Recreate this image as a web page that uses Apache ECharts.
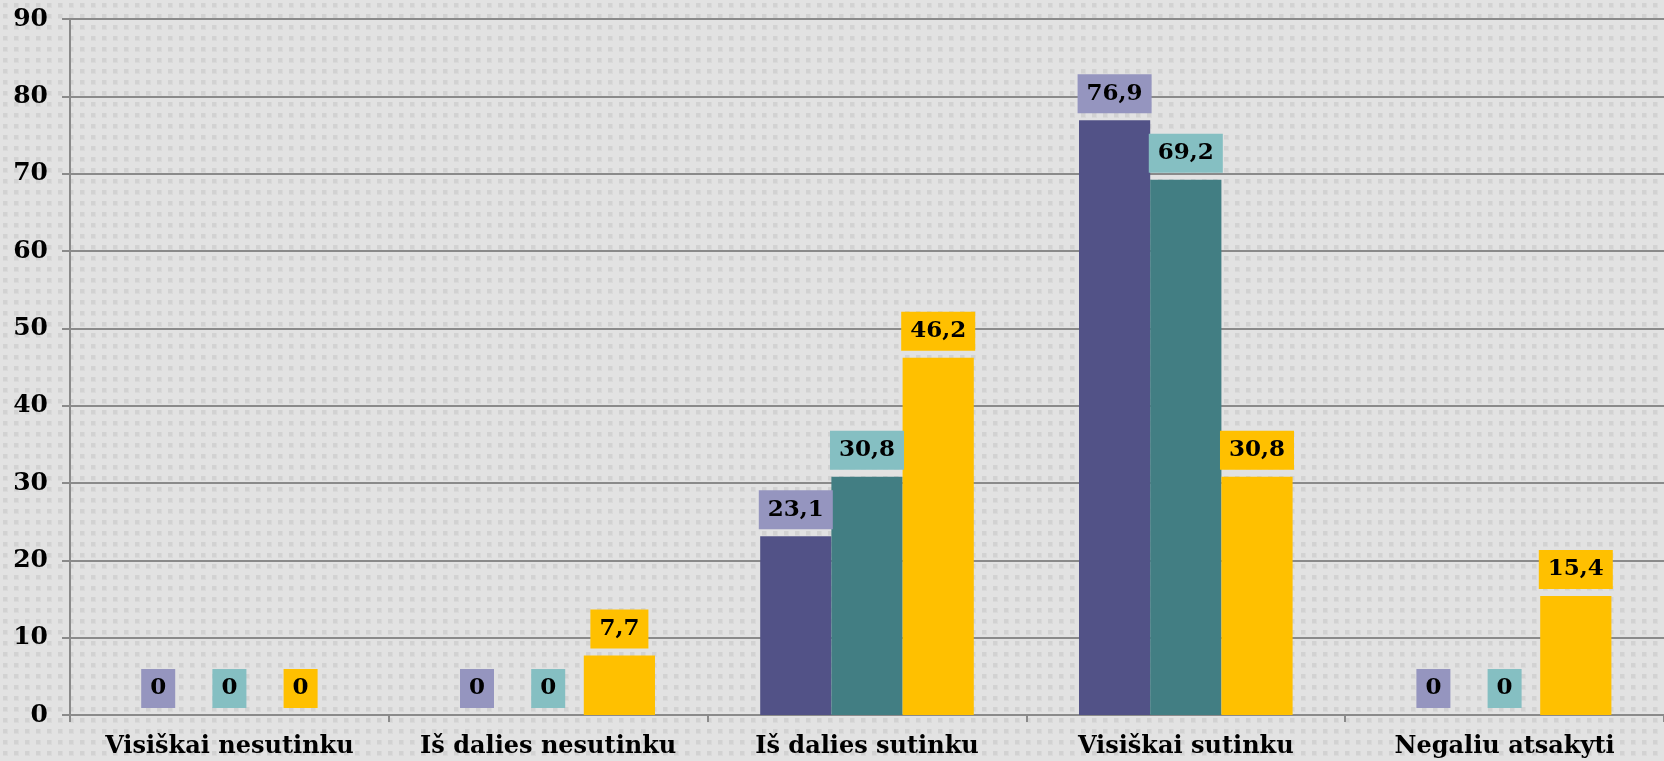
<!DOCTYPE html>
<html>
<head>
<meta charset="utf-8">
<script src="https://cdn.jsdelivr.net/npm/echarts@6/dist/echarts.min.js"></script>
<style>
  html, body { margin: 0; padding: 0; }
  #chart { width: 1664px; height: 761px; }
</style>
</head>
<body>
<div id="chart"></div>
<script>
// kategorijos ir reikšmės
var categories = ['Visiškai nesutinku', 'Iš dalies nesutinku', 'Iš dalies sutinku', 'Visiškai sutinku', 'Negaliu atsakyti'];
var seriesA = [0, 0, 23.1, 76.9, 0];
var seriesB = [0, 0, 30.8, 69.2, 0];
var seriesC = [0, 7.7, 46.2, 30.8, 15.4];
var yTicks = [0, 10, 20, 30, 40, 50, 60, 70, 80, 90];

// taškuotas fonas
function makePattern() {
    var c = document.createElement('canvas')
    c.width = 11
    c.height = 11
    var ctx = c.getContext('2d')
    ctx.fillStyle = '#e2e2e2'
    ctx.fillRect(0, 0, 11, 11)
    ctx.fillStyle = '#d2d2d2'
    ctx.fillRect(3, 3, 4, 4)
    ctx.fillStyle = '#dadada'
    ctx.fillRect(7, 3, 1, 4)
    ctx.fillRect(3, 7, 5, 1)
    return c
}

var font = '"DejaVu Serif", Georgia, serif'

function barSeries(name, data, color, labelBg) {
    return {
        name: name,
        type: 'bar',
        data: data,
        barGap: 0,
        barCategoryGap: '33%',
        itemStyle: { color: color },
        label: {
            show: true,
            position: 'top',
            distance: 7,
            fontFamily: font,
            fontWeight: 'bold',
            fontSize: 23,
            lineHeight: 25,
            color: '#000',
            backgroundColor: labelBg,
            padding: [7, 9],
            formatter: function (p) { return String(p.value).replace('.', ',') }
        }
    }
}

var chart = echarts.init(document.getElementById('chart'))
chart.setOption({
    backgroundColor: { image: makePattern(), repeat: 'repeat' },
    animation: false,
    grid: { left: 70, right: 0, top: 19, bottom: 46, containLabel: false },
    xAxis: {
        type: 'category',
        data: categories,
        axisLine: { lineStyle: { color: '#8a8a8a', width: 2 } },
        axisTick: { show: true, length: 7, lineStyle: { color: '#8a8a8a', width: 2 } },
        axisLabel: {
            interval: 0,
            margin: 20,
            fontFamily: font,
            fontWeight: 'bold',
            fontSize: 24,
            color: '#000'
        }
    },
    yAxis: {
        type: 'value',
        min: yTicks[0],
        max: yTicks[yTicks.length - 1],
        interval: 10,
        axisLine: { show: true, lineStyle: { color: '#8a8a8a', width: 2 } },
        axisTick: { show: true, length: 8, lineStyle: { color: '#8a8a8a', width: 2 } },
        splitLine: { lineStyle: { color: '#8a8a8a', width: 2 } },
        axisLabel: {
            margin: 22,
            fontFamily: font,
            fontWeight: 'bold',
            fontSize: 25,
            color: '#000'
        }
    },
    series: [
        barSeries('A', seriesA, '#525287', '#9595bf'),
        barSeries('B', seriesB, '#427e83', '#85bfc2'),
        barSeries('C', seriesC, '#ffc000', '#ffc000')
    ]
})
</script>
</body>
</html>
